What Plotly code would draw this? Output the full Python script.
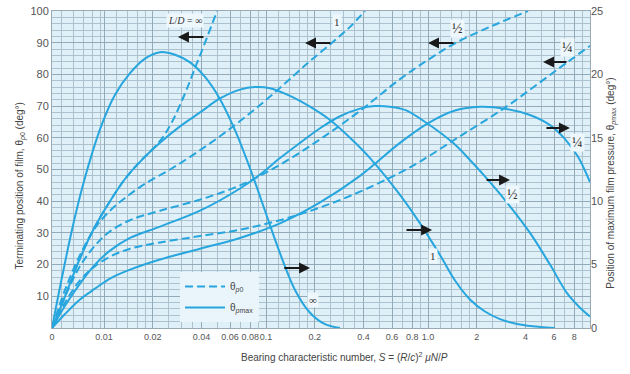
import math
import plotly.graph_objects as go

# ---- Data (S = bearing characteristic number) ----
# Terminating position of film theta_p0 (deg, left axis) - dashed
S_p0_inf = [0.004775, 0.005745, 0.007108, 0.008799, 0.010889, 0.013477, 0.016681, 0.022163, 0.026292,
            0.031623, 0.036449, 0.042025, 0.049838]
th_p0_inf = [0, 10, 22, 32, 40, 47, 52.5, 59, 65, 74, 82, 90, 100]

S_p0_1 = [0.004775, 0.005745, 0.007108, 0.008799, 0.010889, 0.013477, 0.017911, 0.025552, 0.036449,
          0.052, 0.074216, 0.105853, 0.151008, 0.195073, 0.255536, 0.329943, 0.408403]
th_p0_1 = [0, 12, 23, 31.5, 37, 41, 45.5, 50, 55, 60.5, 66.5, 73, 80, 85, 90, 95, 100]

S_p0_half = [0.004775, 0.005745, 0.007108, 0.008799, 0.010889, 0.01447, 0.022163, 0.039145, 0.069107,
             0.121994, 0.215443, 0.3803, 0.67155, 1.0287, 1.468, 2.414, 4.143]
th_p0_half = [0, 10, 19.5, 26, 30.5, 34, 37, 40.5, 45, 51.5, 59.5, 68.5, 78.5, 85, 89.8, 95, 100]

S_p0_quarter = [0.004775, 0.005745, 0.007108, 0.008799, 0.010889, 0.01447, 0.022163, 0.039145, 0.069107,
                0.121994, 0.215443, 0.3803, 0.67155, 0.8928, 1.576, 2.988, 4.913, 7.314, 10]
th_p0_quarter = [0, 8, 15, 19.5, 22.5, 25, 27, 29, 31, 34, 38, 43, 49, 52.5, 60.5, 69.5, 77.5, 84, 89]

# Position of maximum film pressure theta_pmax (deg, right axis) - solid
S_pm_inf = [0.004775, 0.005503, 0.006346, 0.007315, 0.008431, 0.00972, 0.011694, 0.01447, 0.017911,
            0.022163, 0.027438, 0.03396, 0.042025, 0.052, 0.064356, 0.079616, 0.098583, 0.121994,
            0.151008, 0.1869, 0.231313, 0.286207]
th_pm_inf = [0, 4, 7.75, 11, 13.75, 16.1, 18.4, 20.1, 21.25, 21.75, 21.55, 20.95, 19.8, 18.05, 15.6,
             12.6, 9.25, 5.9, 3, 1.2, 0.3, 0]

S_pm_1 = [0.004775, 0.005745, 0.007108, 0.008799, 0.010889, 0.013477, 0.016681, 0.022163, 0.029447,
          0.039145, 0.052, 0.069107, 0.085511, 0.105853, 0.14063, 0.1869, 0.24831, 0.329943, 0.43853,
          0.67155, 0.8928, 1.186, 1.468, 1.816, 2.248, 2.783, 3.698, 4.913, 6.081]
th_pm_1 = [0, 2.5, 5.5, 8, 10, 11.75, 13.1, 14.6, 15.9, 17, 18.1, 18.8, 19, 18.9, 18.3, 17.45, 16.4, 15,
           13.4, 10.5, 8.25, 5.75, 3.75, 2.25, 1.3, 0.7, 0.28, 0.08, 0]

S_pm_half = [0.004775, 0.005745, 0.007108, 0.008799, 0.010889, 0.01447, 0.022163, 0.039145, 0.069107,
             0.091837, 0.121994, 0.162181, 0.215443, 0.286207, 0.3803, 0.470904, 0.58237, 0.72128,
             0.9859, 1.4267, 1.816, 2.414, 3.208, 4.263, 5.664, 7.211, 8.677, 10]
th_pm_half = [0, 1.75, 3.5, 5, 6.1, 7.1, 8, 9.25, 11, 12.1, 13.4, 14.6, 15.75, 16.7, 17.3, 17.5, 17.45,
              17.2, 16.15, 14.6, 13.25, 11.5, 9.6, 7.5, 5, 2.75, 1.6, 0.9]

S_pm_quarter = [0.004775, 0.005745, 0.007108, 0.008799, 0.010889, 0.01447, 0.022163, 0.039145, 0.069107,
                0.121994, 0.215443, 0.3803, 0.67155, 0.9859, 1.468, 2.094, 2.988, 4.263, 5.664, 7.01,
                8.434, 10]
th_pm_quarter = [0, 1.1, 2.25, 3.1, 3.9, 4.6, 5.4, 6.25, 7.1, 8.25, 9.9, 12, 14.6, 16.1, 17.15, 17.45,
                 17.3, 16.8, 16, 14.9, 13.5, 11.5]

x_tickvals = [0.004775, 0.01, 0.02, 0.04, 0.06, 0.08, 0.1, 0.2, 0.4, 0.6, 0.8, 1, 2, 4, 6, 8]
x_ticktext = ["0", "0.01", "0.02", "0.04", "0.06", "0.08", "0.1", "0.2", "0.4", "0.6", "0.8", "1.0",
              "2", "4", "6", "8"]

# curve labels (text, S, theta on left scale, font size)
curve_labels = [
    ("<i>L</i>/<i>D</i> = ∞", 0.0316, 97.0, 10),
    ("1", 0.274, 96.5, 11),
    ("½", 1.53, 94.6, 14),
    ("¼", 7.31, 88.6, 14),
    ("∞", 0.195, 8.8, 11),
    ("1", 1.07, 22.7, 11),
    ("½", 3.3, 42.0, 14),
    ("¼", 8.43, 58.4, 14),
]
# arrows (tail S, head S, theta on left scale)
arrows = [
    (0.042, 0.0286, 91.8),
    (0.255, 0.174, 89.9),
    (1.468, 1.0, 89.9),
    (7.31, 5.13, 83.9),
    (0.127, 0.187, 18.9),
    (0.721, 1.06, 30.9),
    (2.25, 3.21, 46.7),
    (5.27, 7.52, 63.1),
]

COL = "#27a6de"
fig = go.Figure()

dashed = [(S_p0_inf, th_p0_inf), (S_p0_1, th_p0_1), (S_p0_half, th_p0_half), (S_p0_quarter, th_p0_quarter)]
solid = [(S_pm_inf, th_pm_inf), (S_pm_1, th_pm_1), (S_pm_half, th_pm_half), (S_pm_quarter, th_pm_quarter)]

for i, (sx, sy) in enumerate(dashed):
    fig.add_trace(go.Scatter(x=sx, y=sy, mode="lines",
                             line=dict(color=COL, width=2, dash="8px,4px", shape="spline", smoothing=1.0),
                             name="θ<sub><i>p</i>0</sub>", showlegend=(i == 0), legendgroup="p0", yaxis="y"))
for i, (sx, sy) in enumerate(solid):
    fig.add_trace(go.Scatter(x=sx, y=sy, mode="lines",
                             line=dict(color=COL, width=2, shape="spline", smoothing=1.0),
                             name="θ<sub><i>p</i>max</sub>", showlegend=(i == 0), legendgroup="pm", yaxis="y2"))

annotations = []
for txt, sx, ty, fs in curve_labels:
    annotations.append(dict(x=math.log10(sx), y=ty, xref="x", yref="y", text=txt, showarrow=False,
                            font=dict(family="Liberation Serif", size=fs, color="#333"),
                            bgcolor="#eef7fc"))
for tail, head, ty in arrows:
    annotations.append(dict(x=math.log10(head), y=ty, ax=math.log10(tail), ay=ty, xref="x", yref="y",
                            axref="x", ayref="y", text="", showarrow=True, arrowhead=2, arrowsize=1.1,
                            arrowwidth=2, arrowcolor="#1a1a1a"))

# axis titles
annotations.append(dict(xref="paper", yref="paper", x=-0.0743, y=0.448, textangle=-90, showarrow=False,
                        text="Terminating position of film, θ<sub><i>p</i>0</sub> (deg°)",
                        font=dict(size=10, color="#444")))
annotations.append(dict(xref="paper", yref="paper", x=1.0558, y=0.457, textangle=-90, showarrow=False,
                        text="Position of maximum film pressure, θ<sub><i>p</i>max</sub> (deg°)",
                        font=dict(size=10, color="#444")))
annotations.append(dict(xref="paper", yref="paper", x=0.5446, y=-0.09, yanchor="middle", showarrow=False,
                        text="Bearing characteristic number, <i>S</i> = (<i>R</i>/<i>c</i>)<sup>2</sup> <i>μN</i>/<i>P</i>",
                        font=dict(size=10, color="#444")))

minor_x = []
for d in [0.01, 0.1, 1]:
    for m in [1.2, 1.4, 1.6, 1.8, 2, 2.5, 3, 3.5, 4, 5, 6, 7, 8, 9]:
        minor_x.append(round(m * d, 6))
minor_x += [0.0055, 0.0065, 0.0075, 0.0085, 0.0095]

fig.update_layout(
    width=630, height=374,
    margin=dict(l=52, r=40, t=11, b=46, autoexpand=False),
    paper_bgcolor="white",
    plot_bgcolor="#dff0f9",
    font=dict(family="Liberation Sans", size=11, color="#555"),
    showlegend=True,
    hovermode=False,
    legend=dict(x=0.238, y=0.177, xanchor="left", yanchor="top", bgcolor="#eaf5fb",
                font=dict(size=10, color="#444"), tracegroupgap=2, itemwidth=40),
    xaxis=dict(type="log", range=[math.log10(0.004775), 1.0], tickmode="array", tickvals=x_tickvals,
               ticktext=x_ticktext, tickangle=0, automargin=False, showgrid=True, gridcolor="#93aab9", gridwidth=1,
               minor=dict(tickmode="array", tickvals=minor_x, showgrid=True, gridcolor="#adc2cf", gridwidth=1),
               ticks="", zeroline=False, showline=True, linecolor="#9aaab4", mirror=True,
               ticklabeloverflow="allow",
               tickfont=dict(size=9, color="#555")),
    yaxis=dict(range=[0, 100], tickmode="array", tickvals=list(range(10, 101, 10)), showgrid=True,
               automargin=False, gridcolor="#93aab9", minor=dict(dtick=2, showgrid=True, gridcolor="#adc2cf"),
               zeroline=False, ticks="", showline=True, linecolor="#9aaab4", mirror=True,
               ticklabeloverflow="allow",
               tickfont=dict(size=11, color="#555")),
    yaxis2=dict(range=[0, 25], overlaying="y", side="right", tickmode="array", tickvals=[0, 5, 10, 15, 20, 25],
                automargin=False, showgrid=False, zeroline=False, ticks="", ticklabeloverflow="allow",
                tickfont=dict(size=11, color="#555")),
    annotations=annotations,
)

# remove the default 8px body margin so the 630x374 figure fills the window exactly
fig.write_html("out.html", config={"displayModeBar": False},
               post_script="document.body.style.margin='0';")
